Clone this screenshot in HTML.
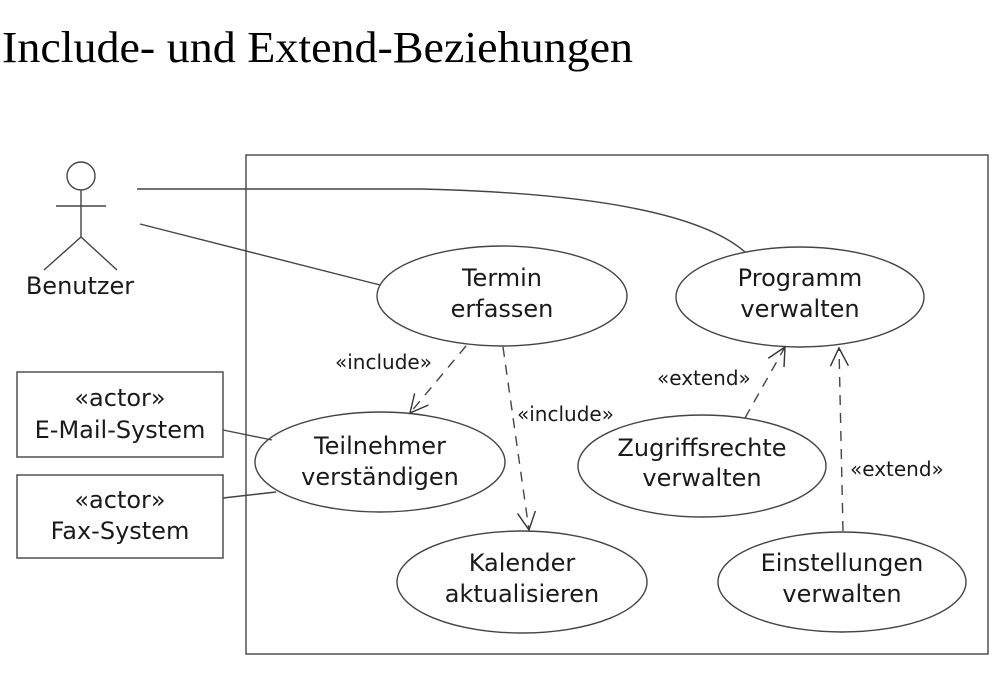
<!DOCTYPE html>
<html><head><meta charset="utf-8"><style>
html,body{margin:0;padding:0;background:#fff;width:1003px;height:685px;overflow:hidden}
svg{display:block}
.s{font-family:"DejaVu Sans","Liberation Sans",sans-serif;fill:#1a1a1a}
</style></head><body>
<svg width="1003" height="685" viewBox="0 0 1003 685" xmlns="http://www.w3.org/2000/svg">
<defs>
<marker id="a" markerWidth="22" markerHeight="22" refX="19" refY="11" orient="auto" markerUnits="userSpaceOnUse">
<path d="M1,2 L19,11 L1,20" fill="none" stroke="#333" stroke-width="1.4"/>
</marker>
</defs>
<text x="2" y="62" font-family="Liberation Serif,serif" font-size="44" textLength="631" lengthAdjust="spacingAndGlyphs" fill="#000">Include- und Extend-Beziehungen</text>
<g stroke="#444" stroke-width="1.4" fill="none">
<rect x="246" y="155" width="742" height="499"/>
<circle cx="81" cy="176" r="14"/>
<line x1="81" y1="190" x2="81" y2="237"/>
<line x1="56" y1="206" x2="106" y2="206"/>
<line x1="81" y1="237" x2="44" y2="270"/>
<line x1="81" y1="237" x2="117" y2="270"/>
<path d="M137,189 L420,189 Q680,195 745,252"/>
<line x1="140" y1="224" x2="380" y2="285"/>
<rect x="17" y="372" width="206" height="85"/>
<rect x="17" y="475" width="206" height="83"/>
<line x1="223" y1="430" x2="272" y2="440"/>
<line x1="223" y1="498" x2="276" y2="492"/>
<ellipse cx="502" cy="296" rx="125" ry="50"/>
<ellipse cx="800" cy="297" rx="124" ry="50"/>
<ellipse cx="380" cy="462" rx="125" ry="50"/>
<ellipse cx="702" cy="466" rx="124" ry="51"/>
<ellipse cx="522" cy="582" rx="125" ry="51"/>
<ellipse cx="842" cy="582" rx="124" ry="50"/>
<g stroke-dasharray="10,8">
<line x1="466" y1="346" x2="410" y2="413" marker-end="url(#a)"/>
<line x1="503" y1="347" x2="529" y2="530" marker-end="url(#a)"/>
<line x1="745" y1="418" x2="785" y2="347" marker-end="url(#a)"/>
<line x1="843" y1="531" x2="839" y2="348" marker-end="url(#a)"/>
</g>
</g>
<g class="s" font-size="24" text-anchor="middle">
<text x="80" y="294">Benutzer</text>
<text x="120" y="406">«actor»</text>
<text x="120" y="438">E-Mail-System</text>
<text x="120" y="508">«actor»</text>
<text x="120" y="539">Fax-System</text>
<text x="502" y="286">Termin</text>
<text x="502" y="317">erfassen</text>
<text x="800" y="286">Programm</text>
<text x="800" y="317">verwalten</text>
<text x="380" y="454">Teilnehmer</text>
<text x="380" y="485">verständigen</text>
<text x="702" y="456">Zugriffsrechte</text>
<text x="702" y="486">verwalten</text>
<text x="522" y="571">Kalender</text>
<text x="522" y="602">aktualisieren</text>
<text x="842" y="571">Einstellungen</text>
<text x="842" y="602">verwalten</text>
</g>
<g class="s" font-size="20">
<text x="335" y="369">«include»</text>
<text x="517" y="421">«include»</text>
<text x="657" y="385">«extend»</text>
<text x="850" y="476">«extend»</text>
</g>
</svg>
</body></html>
